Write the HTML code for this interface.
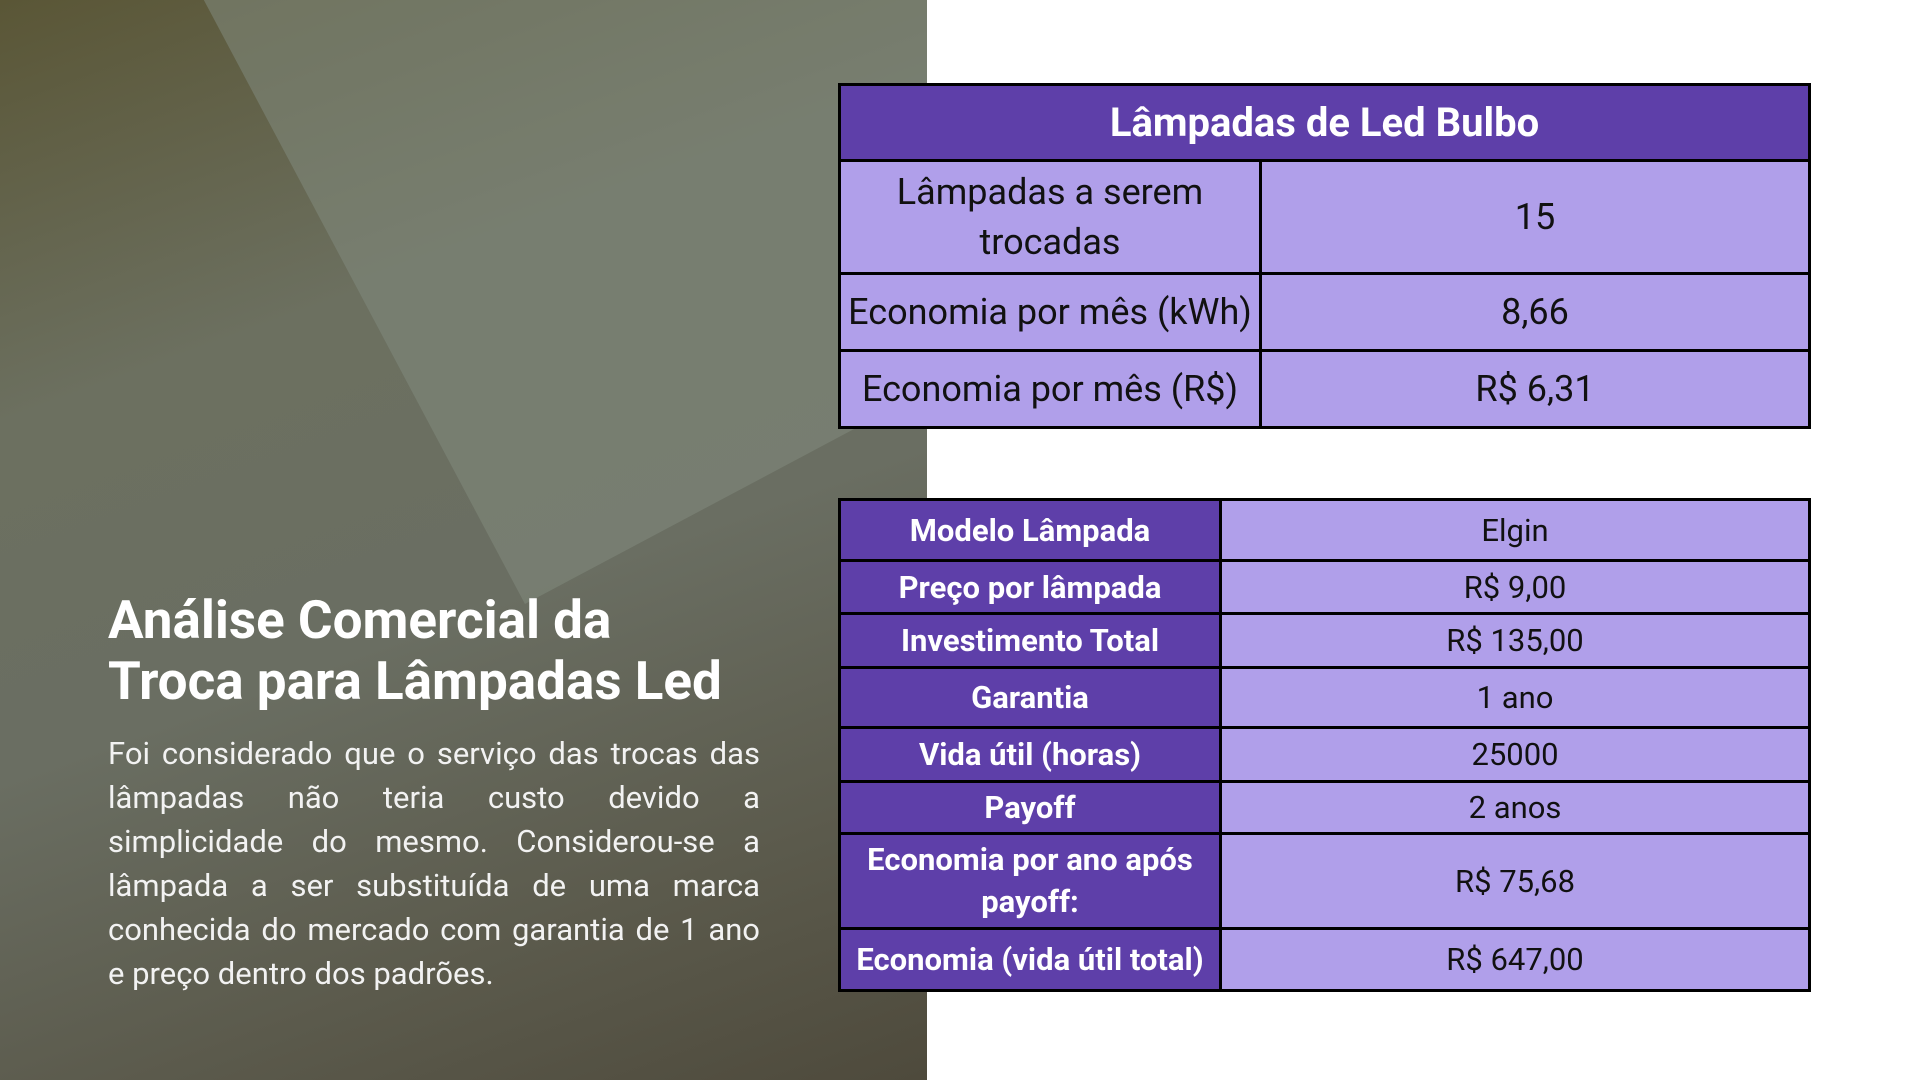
<!DOCTYPE html>
<html><head><meta charset="utf-8"><style>
body{margin:0;width:1920px;height:1080px;position:relative;overflow:hidden;background:#fff;font-family:"Roboto","Liberation Sans",sans-serif}
#bg{position:absolute;left:0;top:0;width:927px;height:1080px;overflow:hidden;background:linear-gradient(160deg,#5a5636 0%,#6c7060 30%,#6a6e62 55%,#5b5a4c 80%,#4e4a3c 100%)}
.doc{position:absolute;left:140px;top:-120px;width:900px;height:820px;background:rgba(130,138,126,0.55);transform:rotate(-28deg);transform-origin:0 0}
h1{position:absolute;left:108px;top:590px;margin:0;color:#fff;font-size:53px;line-height:61px;font-weight:bold;white-space:nowrap}
p{position:absolute;left:108px;top:732px;margin:0;width:652px;color:#f2f2f2;font-size:31px;line-height:44px;text-align:justify}
table{position:absolute;border-collapse:collapse;color:#111}
td{border:3px solid #000;text-align:center;padding:0 2px}
.h{background:#5e3fa9;color:#fff;font-weight:bold}
.l{background:#b09fea}
#t1{left:838px;top:83px;width:973px;font-size:36px}
#t2{left:838px;top:498px;width:973px;font-size:31px}
</style></head><body>
<div id="bg"><div class="doc"></div></div>
<h1>Análise Comercial da<br>Troca para Lâmpadas Led</h1>
<p>Foi considerado que o serviço das trocas das lâmpadas não teria custo devido a simplicidade do mesmo. Considerou-se a lâmpada a ser substituída de uma marca conhecida do mercado com garantia de 1 ano e preço dentro dos padrões.</p>
<table id="t1">
<tr style="height:76px"><td colspan="2" class="h" style="font-size:40px">Lâmpadas de Led Bulbo</td></tr>
<tr style="height:113px"><td class="l" style="width:414px;line-height:50px">Lâmpadas a serem<br>trocadas</td><td class="l">15</td></tr>
<tr style="height:77px"><td class="l">Economia por mês (kWh)</td><td class="l">8,66</td></tr>
<tr style="height:77px"><td class="l">Economia por mês (R$)</td><td class="l">R$ 6,31</td></tr>
</table>
<table id="t2">
<tr style="height:61px"><td class="h" style="width:374px">Modelo Lâmpada</td><td class="l">Elgin</td></tr>
<tr style="height:53px"><td class="h">Preço por lâmpada</td><td class="l">R$ 9,00</td></tr>
<tr style="height:54px"><td class="h">Investimento Total</td><td class="l">R$ 135,00</td></tr>
<tr style="height:60px"><td class="h">Garantia</td><td class="l">1 ano</td></tr>
<tr style="height:54px"><td class="h">Vida útil (horas)</td><td class="l">25000</td></tr>
<tr style="height:52px"><td class="h">Payoff</td><td class="l">2 anos</td></tr>
<tr style="height:95px"><td class="h" style="line-height:42px">Economia por ano após payoff:</td><td class="l">R$ 75,68</td></tr>
<tr style="height:62px"><td class="h">Economia (vida útil total)</td><td class="l">R$ 647,00</td></tr>
</table>
</body></html>
